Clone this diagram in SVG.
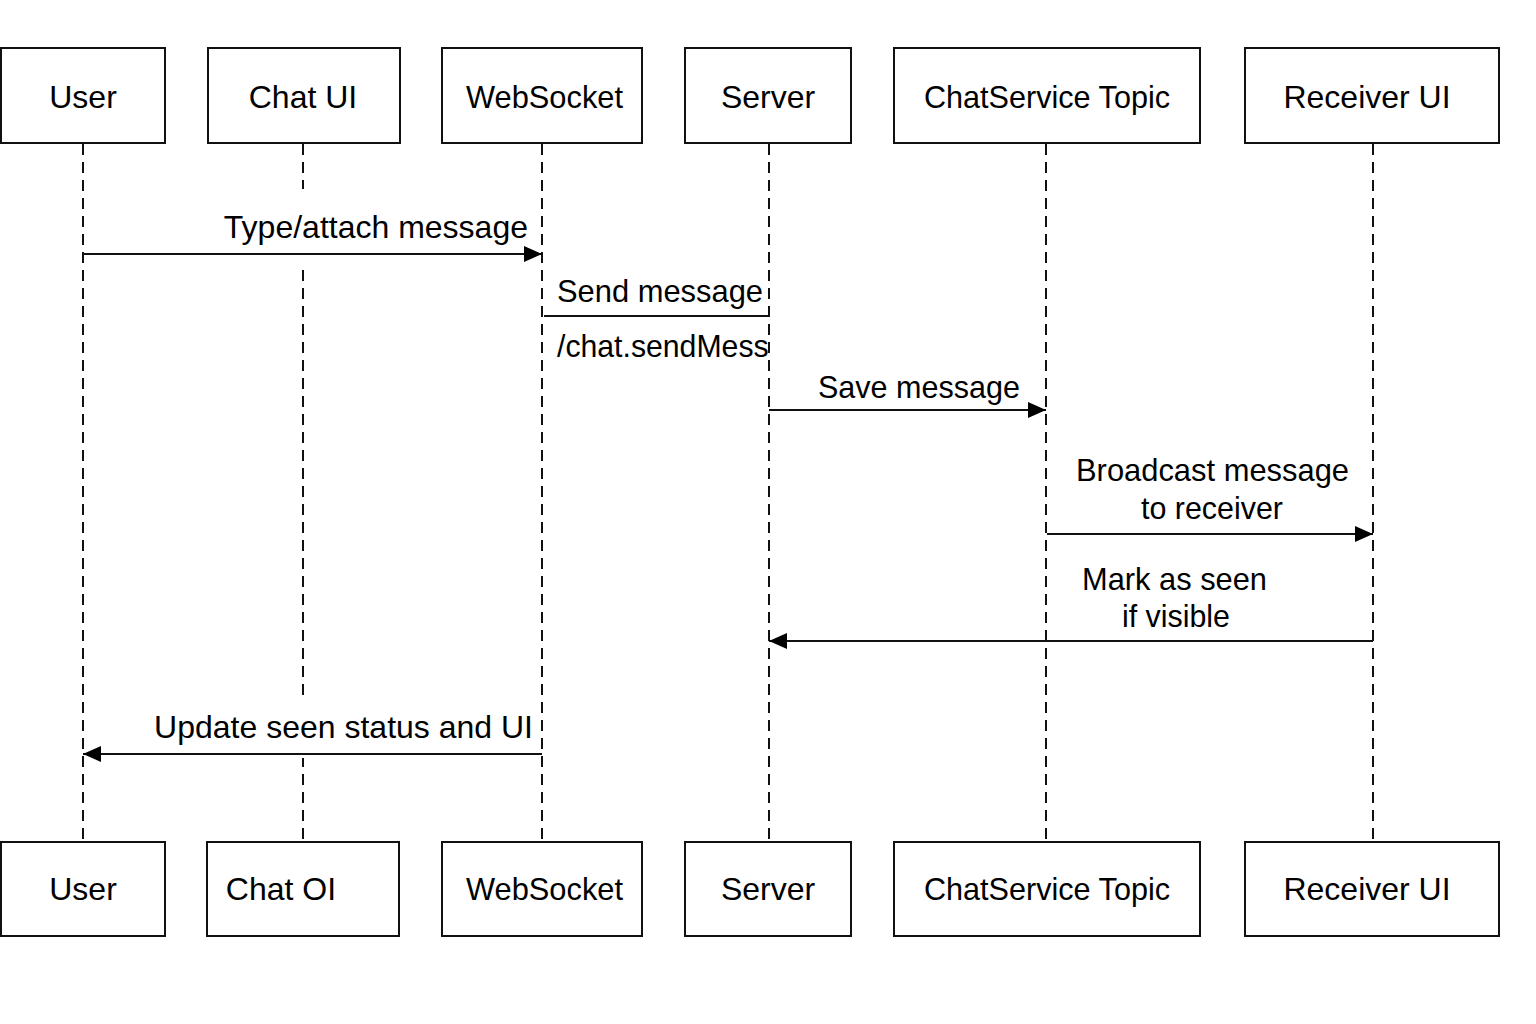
<svg xmlns="http://www.w3.org/2000/svg" width="1536" height="1024" viewBox="0 0 1536 1024">
<style>
.box{fill:#fff;stroke:#111;stroke-width:2}
.lbl{font-family:"Liberation Sans",Arial,sans-serif;font-size:32px;fill:#000}
.life{stroke:#111;stroke-width:2;stroke-dasharray:11 7;fill:none}
.msg{stroke:#111;stroke-width:2;fill:none}
.bg{fill:#fff}
</style>
<defs>
<marker id="ah" viewBox="0 0 18 16" refX="18" refY="8" markerWidth="18" markerHeight="16" markerUnits="userSpaceOnUse" orient="auto">
<path d="M0,0 L18,8 L0,16 Z" fill="#000"/>
</marker>
<clipPath id="clipSend"><rect x="540" y="325" width="228" height="45"/></clipPath>
</defs>
<rect width="1536" height="1024" fill="#fff"/>
<g id="lifelines">
<line class="life" x1="83" y1="144" x2="83" y2="842"/>
<line class="life" x1="303" y1="144" x2="303" y2="842"/>
<line class="life" x1="542" y1="144" x2="542" y2="842"/>
<line class="life" x1="769" y1="144" x2="769" y2="842"/>
<line class="life" x1="1046" y1="144" x2="1046" y2="842"/>
<line class="life" x1="1373" y1="144" x2="1373" y2="842"/>
</g>
<g id="connectors">
<rect class="bg" x="225" y="189" width="306" height="77"/>
<text class="lbl" x="528" y="238" text-anchor="end">Type/attach message</text>
<line class="msg" x1="83" y1="254" x2="542" y2="254" marker-end="url(#ah)"/>
<text class="lbl" x="557" y="302" textLength="206" lengthAdjust="spacingAndGlyphs">Send message</text>
<line class="msg" x1="544" y1="316" x2="768" y2="316"/>
<text class="lbl" x="557" y="357" clip-path="url(#clipSend)" textLength="262" lengthAdjust="spacingAndGlyphs">/chat.sendMessage</text>
<text class="lbl" x="818" y="398" textLength="202" lengthAdjust="spacingAndGlyphs">Save message</text>
<line class="msg" x1="769" y1="410" x2="1046" y2="410" marker-end="url(#ah)"/>
<text class="lbl" x="1076" y="481" textLength="273" lengthAdjust="spacingAndGlyphs">Broadcast message</text>
<text class="lbl" x="1141" y="519" textLength="142" lengthAdjust="spacingAndGlyphs">to receiver</text>
<line class="msg" x1="1047" y1="534" x2="1373" y2="534" marker-end="url(#ah)"/>
<text class="lbl" x="1082" y="590" textLength="185" lengthAdjust="spacingAndGlyphs">Mark as seen</text>
<text class="lbl" x="1122" y="627" textLength="108" lengthAdjust="spacingAndGlyphs">if visible</text>
<line class="msg" x1="1373" y1="641" x2="769" y2="641" marker-end="url(#ah)"/>
<rect class="bg" x="155" y="696" width="380" height="62"/>
<text class="lbl" x="533" y="738" text-anchor="end">Update seen status and UI</text>
<line class="msg" x1="542" y1="754" x2="83" y2="754" marker-end="url(#ah)"/>
</g>
<g id="user-top"><rect class="box" x="1" y="48" width="164" height="95"/><text class="lbl" x="83" y="108" text-anchor="middle">User</text></g>
<g id="chatui-top"><rect class="box" x="208" y="48" width="192" height="95"/><text class="lbl" x="303" y="108" text-anchor="middle">Chat UI</text></g>
<g id="websocket-top"><rect class="box" x="442" y="48" width="200" height="95"/><text class="lbl" x="466" y="108" textLength="157" lengthAdjust="spacingAndGlyphs">WebSocket</text></g>
<g id="server-top"><rect class="box" x="685" y="48" width="166" height="95"/><text class="lbl" x="768" y="108" text-anchor="middle">Server</text></g>
<g id="chatservice-top"><rect class="box" x="894" y="48" width="306" height="95"/><text class="lbl" x="924" y="108" textLength="246" lengthAdjust="spacingAndGlyphs">ChatService Topic</text></g>
<g id="receiver-top"><rect class="box" x="1245" y="48" width="254" height="95"/><text class="lbl" x="1367" y="108" text-anchor="middle">Receiver UI</text></g>
<g id="user-bottom"><rect class="box" x="1" y="842" width="164" height="94"/><text class="lbl" x="83" y="900" text-anchor="middle">User</text></g>
<g id="chatui-bottom"><rect class="box" x="207" y="842" width="192" height="94"/><text class="lbl" x="281" y="900" text-anchor="middle">Chat OI</text></g>
<g id="websocket-bottom"><rect class="box" x="442" y="842" width="200" height="94"/><text class="lbl" x="466" y="900" textLength="157" lengthAdjust="spacingAndGlyphs">WebSocket</text></g>
<g id="server-bottom"><rect class="box" x="685" y="842" width="166" height="94"/><text class="lbl" x="768" y="900" text-anchor="middle">Server</text></g>
<g id="chatservice-bottom"><rect class="box" x="894" y="842" width="306" height="94"/><text class="lbl" x="924" y="900" textLength="246" lengthAdjust="spacingAndGlyphs">ChatService Topic</text></g>
<g id="receiver-bottom"><rect class="box" x="1245" y="842" width="254" height="94"/><text class="lbl" x="1367" y="900" text-anchor="middle">Receiver UI</text></g>
</svg>
